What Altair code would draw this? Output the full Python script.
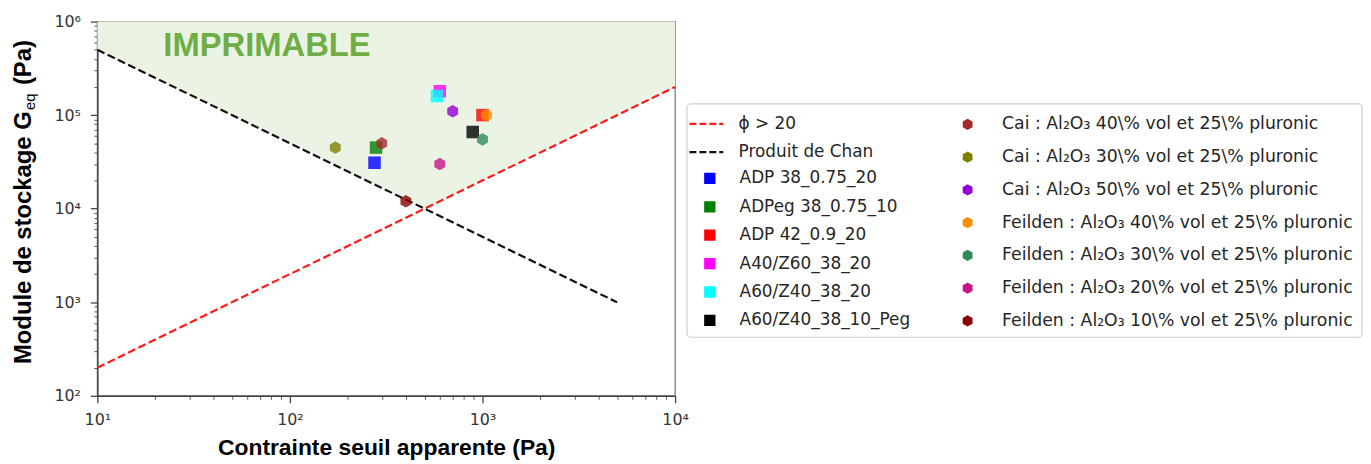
import altair as alt
import pandas as pd

# ---------------- data ----------------
x_ticks = [10, 100, 1000, 10000]
x_tick_labels = ["10¹", "10²", "10³", "10⁴"]
y_ticks = [100, 1000, 10000, 100000, 1000000]
y_tick_labels = ["10²", "10³", "10⁴", "10⁵", "10⁶"]

line_names = ["ϕ > 20", "Produit de Chan"]
line_colors = ["#ff1a1a", "#111111"]
phi_x = [10, 10000]
phi_y = [200, 200000]
chan_x = [10, 5000]
chan_y = [500000, 1000]

zone_x = [10, 500, 10000]
zone_low = [500000, 10000, 200000]
zone_high = [1000000, 1000000, 1000000]

sq_names = ["ADP 38_0.75_20", "ADPeg 38_0.75_10", "ADP 42_0.9_20",
            "A40/Z60_38_20", "A60/Z40_38_20", "A60/Z40_38_10_Peg"]
sq_colors = ["blue", "green", "red", "magenta", "cyan", "black"]
sq_x = [275, 280, 1000, 600, 580, 890]
sq_y = [31000, 45000, 100000, 180000, 160000, 66000]

hex_names = ["Cai : Al₂O₃ 40\\% vol et 25\\% pluronic",
             "Cai : Al₂O₃ 30\\% vol et 25\\% pluronic",
             "Cai : Al₂O₃ 50\\% vol et 25\\% pluronic",
             "Feilden : Al₂O₃ 40\\% vol et 25\\% pluronic",
             "Feilden : Al₂O₃ 30\\% vol et 25\\% pluronic",
             "Feilden : Al₂O₃ 20\\% vol et 25\\% pluronic",
             "Feilden : Al₂O₃ 10\\% vol et 25\\% pluronic"]
hex_colors = ["brown", "olive", "darkviolet", "darkorange", "seagreen",
              "mediumvioletred", "darkred"]
hex_x = [300, 172, 700, 1050, 1000, 600, 400]
hex_y = [50000, 45000, 110000, 100000, 55000, 30000, 12000]

zone_label = ["IMPRIMABLE"]
zone_label_x = [22]
zone_label_y = [550000]

y_title_parts = ["Module de stockage G", "eq", "(Pa)"]
x_title = "Contrainte seuil apparente (Pa)"

# ---------------- helpers ----------------
HEX = "M0,-1L0.866,-0.5L0.866,0.5L0,1L-0.866,0.5L-0.866,-0.5Z"
LABEL_FONT = "DejaVu Sans"
TITLE_FONT = "Liberation Sans"


def minor_values(decades):
    vals = []
    for d in decades[:-1]:
        vals += [m * d for m in range(1, 10)]
    vals.append(decades[-1])
    return vals


def label_expr(vals, labs):
    s = "''"
    for v, l in reversed(list(zip(vals, labs))):
        s = f"datum.value == {v} ? '{l}' : " + s
    return s


def axis(vals, labs, title, **kw):
    test = f"indexof({list(vals)}, datum.value) >= 0"
    return alt.Axis(
        values=minor_values(vals),
        labelExpr=label_expr(vals, labs),
        tickSize={"condition": {"test": test, "value": 7}, "value": 3.5},
        tickWidth={"condition": {"test": test, "value": 1.3}, "value": 0.9},
        tickColor="#444", domainColor="#444", domainWidth=1.5,
        labelFont=LABEL_FONT, labelFontSize=16, labelColor="#333",
        labelOverlap=False, labelFlush=False,
        grid=False, title=title, **kw)


x_axis = axis(x_ticks, x_tick_labels, x_title, titleFont=TITLE_FONT,
              titleFontSize=23, titleFontWeight="bold", titleColor="black",
              labelPadding=9, titlePadding=9)
y_axis = axis(y_ticks, y_tick_labels, None, labelPadding=10)

xscale = alt.Scale(type="log", domain=[10, 10000], nice=False)
yscale = alt.Scale(type="log", domain=[100, 1000000], nice=False)


def X(f):
    return alt.X(f, type="quantitative", scale=xscale, axis=x_axis)


def Y(f):
    return alt.Y(f, type="quantitative", scale=yscale, axis=y_axis)


def legend(x, y, sym, size, offset, row_pad, font_size=17, **kw):
    return alt.Legend(title=None, orient="none", legendX=x, legendY=y,
                      symbolType=sym, symbolSize=size,
                      labelFont=LABEL_FONT, labelFontSize=font_size,
                      labelColor="#262626", labelOffset=offset, labelLimit=0,
                      clipHeight=17, rowPadding=row_pad, padding=0, **kw)


# ---------------- layers ----------------
zone_df = pd.DataFrame({"x": zone_x, "low": zone_low, "high": zone_high})
area = alt.Chart(zone_df).mark_area(color="#ebf4e4", opacity=1).encode(
    x=X("x"), y=Y("low"), y2="high:Q")

lines_df = pd.DataFrame({
    "x": phi_x + chan_x,
    "y": phi_y + chan_y,
    "serie": [line_names[0]] * len(phi_x) + [line_names[1]] * len(chan_x)})
lines = alt.Chart(lines_df).mark_line(strokeDash=[8, 3.5], strokeWidth=2.2).encode(
    x=X("x"), y=Y("y"),
    color=alt.Color("serie:N", scale=alt.Scale(domain=line_names, range=line_colors),
                    legend=legend(595, 94.5, "stroke", 1156, 14, 10.6,
                                  symbolStrokeWidth=2.2, symbolDash=[7, 3])))

sq_df = pd.DataFrame({"x": sq_x, "y": sq_y, "serie": sq_names})
squares = alt.Chart(sq_df).mark_point(shape="square", filled=True, size=160,
                                      opacity=0.8).encode(
    x=X("x"), y=Y("y"),
    color=alt.Color("serie:N", scale=alt.Scale(domain=sq_names, range=sq_colors),
                    legend=legend(608.5, 149.5, "square", 130, 21.5, 10.6,
                                  symbolStrokeWidth=0, symbolOpacity=1)))

hex_df = pd.DataFrame({"x": hex_x, "y": hex_y, "serie": hex_names})
hexes = alt.Chart(hex_df).mark_point(shape=HEX, filled=True, size=160,
                                     opacity=0.8).encode(
    x=X("x"), y=Y("y"),
    color=alt.Color("serie:N", scale=alt.Scale(domain=hex_names, range=hex_colors),
                    legend=legend(868, 95, HEX, 130, 26, 15.0, font_size=17.4,
                                  symbolStrokeWidth=0, symbolOpacity=1)))

txt_df = pd.DataFrame({"x": zone_label_x, "y": zone_label_y, "t": zone_label})
zone_text = alt.Chart(txt_df).mark_text(
    align="left", baseline="middle", font=TITLE_FONT, fontSize=33,
    fontWeight="bold", color="#70ad47").encode(x=X("x"), y=Y("y"), text="t:N")

# legend frame (decoration around the three legends)
frame = alt.Chart(pd.DataFrame({"k": [0]})).mark_rect(
    fill="white", stroke="#d0d0d0", strokeWidth=1.2, cornerRadius=4).encode(
    x=alt.value(594), x2=alt.value(1274), y=alt.value(83), y2=alt.value(318))

# y title with subscript
yt1 = alt.Chart(pd.DataFrame({"t": [y_title_parts[0]]})).mark_text(
    angle=270, align="left", baseline="middle", font=TITLE_FONT, fontSize=24,
    fontWeight="bold", color="black").encode(
    text="t:N", x=alt.value(-74), y=alt.value(345))
yt2 = alt.Chart(pd.DataFrame({"t": [y_title_parts[1]]})).mark_text(
    angle=270, align="left", baseline="middle", font=TITLE_FONT, fontSize=15,
    color="black").encode(
    text="t:N", x=alt.value(-68), y=alt.value(89))
yt3 = alt.Chart(pd.DataFrame({"t": [y_title_parts[2]]})).mark_text(
    angle=270, align="left", baseline="middle", font=TITLE_FONT, fontSize=24,
    fontWeight="bold", color="black").encode(
    text="t:N", x=alt.value(-74), y=alt.value(64))

chart = alt.layer(area, lines, squares, hexes, zone_text, frame, yt1, yt2, yt3).resolve_scale(
    color="independent"
).properties(
    width=582, height=377,
    padding={"left": 3, "top": 4, "right": 0, "bottom": 0}
).configure_view(stroke="#888", strokeWidth=1.4)

chart.save("out.html", embed_options={"renderer": "svg", "actions": False})
